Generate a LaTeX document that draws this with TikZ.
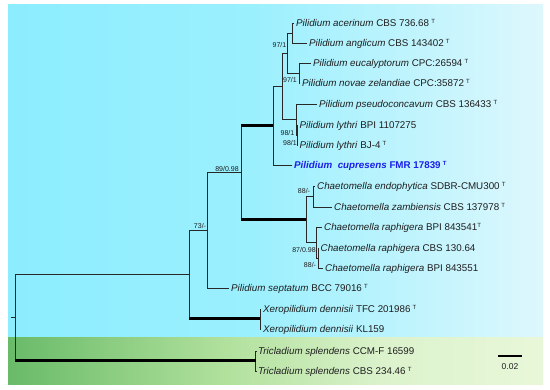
\documentclass[tikz,border=0pt]{standalone}
\usepackage{fontspec}
\setmainfont{Liberation Sans}
\definecolor{txt}{RGB}{30,30,30}
\definecolor{brc}{RGB}{40,40,40}
\definecolor{cup}{RGB}{25,30,235}
\pgfdeclarehorizontalshading{cyanbg}{100bp}{rgb(0bp)=(0.55,0.93,0.996); rgb(25bp)=(0.55,0.93,0.996); rgb(48bp)=(0.61,0.94,0.996); rgb(75bp)=(0.87,0.97,0.99); rgb(100bp)=(0.87,0.97,0.99)}
\pgfdeclarehorizontalshading{greenbg}{100bp}{rgb(0bp)=(0.41,0.73,0.41); rgb(25bp)=(0.41,0.73,0.41); rgb(45bp)=(0.69,0.88,0.61); rgb(60bp)=(0.86,0.95,0.80); rgb(75bp)=(0.91,0.97,0.85); rgb(100bp)=(0.91,0.97,0.85)}
\newcommand{\typeT}{\hspace{2.2pt}\raisebox{3.4pt}{\fontsize{6}{6}\selectfont T}}
\tikzset{
  br/.style={draw=brc, line width=0.9pt},
  thickbr/.style={draw=black, line width=3pt},
  leaf/.style={anchor=base west, inner sep=0pt, font=\fontsize{9.8}{11}\selectfont, text=txt, xshift=2pt, yshift=-3.5pt},
  supp/.style={inner sep=0pt, font=\fontsize{7}{7}\selectfont, text=txt}
}
\begin{document}
\begin{tikzpicture}[x=1pt,y=-1pt]
\useasboundingbox (0,0) rectangle (550,390);
\fill[white] (0,0) rectangle (550,390);
\shade[shading=cyanbg] (8,5) rectangle (543,338);
\shade[shading=greenbg] (8,338) rectangle (543,385);

% tips
\coordinate (t1) at (294,23);
\coordinate (t2) at (307,43);
\coordinate (t3) at (311,63);
\coordinate (t4) at (300,83);
\coordinate (t5) at (317,104);
\coordinate (t6) at (297.5,125);
\coordinate (t7) at (297.5,145);
\coordinate (t8) at (292,165);
\coordinate (t9) at (315,186);
\coordinate (t10) at (332,207);
\coordinate (t11) at (322,227);
\coordinate (t12) at (318.5,248);
\coordinate (t13) at (323,268);
\coordinate (t14) at (229,288);
\coordinate (t15) at (261,309);
\coordinate (t16) at (261,329);
\coordinate (t17) at (256,351);
\coordinate (t18) at (256,371);
% internal nodes
\coordinate (nAB) at (292,33);
\coordinate (nEN) at (299,73);
\coordinate (nF) at (287,53);
\coordinate (nLy) at (297,135);
\coordinate (nLP) at (296,119.5);
\coordinate (nQ) at (282,86.25);
\coordinate (nP) at (273,125.6);
\coordinate (nC1) at (313,196.5);
\coordinate (nC3) at (318,258);
\coordinate (nC2) at (316,242.5);
\coordinate (nC) at (306,219.5);
\coordinate (nN3) at (241,172.6);
\coordinate (nN2) at (207,230.3);
\coordinate (nX) at (260,319);
\coordinate (nN1) at (189,274.6);
\coordinate (nT) at (255.5,361);
\coordinate (nR) at (15,317.8);
\coordinate (stub) at (11,317.8);

% branches
\draw[br] (nAB) |- (t1); \draw[br] (nAB) |- (t2);
\draw[br] (nEN) |- (t3); \draw[br] (nEN) |- (t4);
\draw[br] (nF) |- (nAB); \draw[br] (nF) |- (nEN);
\draw[br] (nLy) |- (t6); \draw[br] (nLy) |- (t7);
\draw[br] (nLP) |- (t5); \draw[br] (nLP) |- (nLy);
\draw[br] (nQ) |- (nF); \draw[br] (nQ) |- (nLP);
\draw[br] (nP) |- (nQ); \draw[br] (nP) |- (t8);
\draw[br] (nC1) |- (t9); \draw[br] (nC1) |- (t10);
\draw[br] (nC3) |- (t12); \draw[br] (nC3) |- (t13);
\draw[br] (nC2) |- (t11); \draw[br] (nC2) |- (nC3);
\draw[br] (nC) |- (nC1); \draw[br] (nC) |- (nC2);
\draw[br] (nN3) |- (nP); \draw[br] (nN3) |- (nC);
\draw[thickbr] (nN3 |- nP) -- (nP);
\draw[thickbr] (nN3 |- nC) -- (nC);
\draw[br] (nN2) |- (nN3); \draw[br] (nN2) |- (t14);
\draw[br] (nX) |- (t15); \draw[br] (nX) |- (t16);
\draw[br] (nN1) |- (nN2); \draw[br] (nN1) |- (nX);
\draw[thickbr] (nN1 |- nX) -- (nX);
\draw[br] (nT) |- (t17); \draw[br] (nT) |- (t18);
\draw[br] (nR) |- (nN1); \draw[br] (nR) |- (nT);
\draw[thickbr] (nR |- nT) -- (nT);
\draw[br] (stub) -- (nR);

% leaf labels
\node[leaf] (l1) at (t1) {\textit{Pilidium acerinum} CBS 736.68\typeT};
\node[leaf] (l2) at (t2) {\textit{Pilidium anglicum} CBS 143402\typeT};
\node[leaf] (l3) at (t3) {\textit{Pilidium eucalyptorum} CPC:26594\typeT};
\node[leaf] (l4) at (t4) {\textit{Pilidium novae zelandiae} CPC:35872\typeT};
\node[leaf] (l5) at (t5) {\textit{Pilidium pseudoconcavum} CBS 136433\typeT};
\node[leaf] (l6) at (t6) {\textit{Pilidium lythri} BPI 1107275};
\node[leaf] (l7) at (t7) {\textit{Pilidium lythri} BJ-4\typeT};
\node[leaf, text=cup] (l8) at (t8) {\bfseries\textit{Pilidium\ \ cupresens} FMR 17839\typeT};
\node[leaf] (l9) at (t9) {\textit{Chaetomella endophytica} SDBR-CMU300\typeT};
\node[leaf] (l10) at (t10) {\textit{Chaetomella zambiensis} CBS 137978\typeT};
\node[leaf] (l11) at (t11) {\textit{Chaetomella raphigera} BPI 843541\raisebox{3.4pt}{\fontsize{6}{6}\selectfont T}};
\node[leaf] (l12) at (t12) {\textit{Chaetomella raphigera} CBS 130.64};
\node[leaf] (l13) at (t13) {\textit{Chaetomella raphigera} BPI 843551};
\node[leaf] (l14) at (t14) {\textit{Pilidium septatum} BCC 79016\typeT};
\node[leaf] (l15) at (t15) {\textit{Xeropilidium dennisii} TFC 201986\typeT};
\node[leaf] (l16) at (t16) {\textit{Xeropilidium dennisii} KL159};
\node[leaf] (l17) at (t17) {\textit{Tricladium splendens} CCM-F 16599};
\node[leaf] (l18) at (t18) {\textit{Tricladium splendens} CBS 234.46\typeT};

% support values
\node[supp] (s1) at (279.5,45) {97/1};
\node[supp] (s2) at (290,80) {97/1};
\node[supp] (s3) at (287.5,133) {98/1};
\node[supp] (s4) at (290,143) {98/1};
\node[supp] (s5) at (227,169) {89/0.98};
\node[supp] (s6) at (200,226) {73/-};
\node[supp] (s7) at (304,191) {88/-};
\node[supp] (s8) at (304,249.5) {87/0.98};
\node[supp] (s9) at (310,265) {88/-};

% scale bar
\coordinate (sbL) at (498,356);
\coordinate (sbR) at (522,356);
\draw[line width=1.5pt] (sbL) -- (sbR);
\node[inner sep=0pt, font=\fontsize{8.5}{9}\selectfont, text=txt] (sblab) at (510,367) {0.02};
\end{tikzpicture}
\end{document}
